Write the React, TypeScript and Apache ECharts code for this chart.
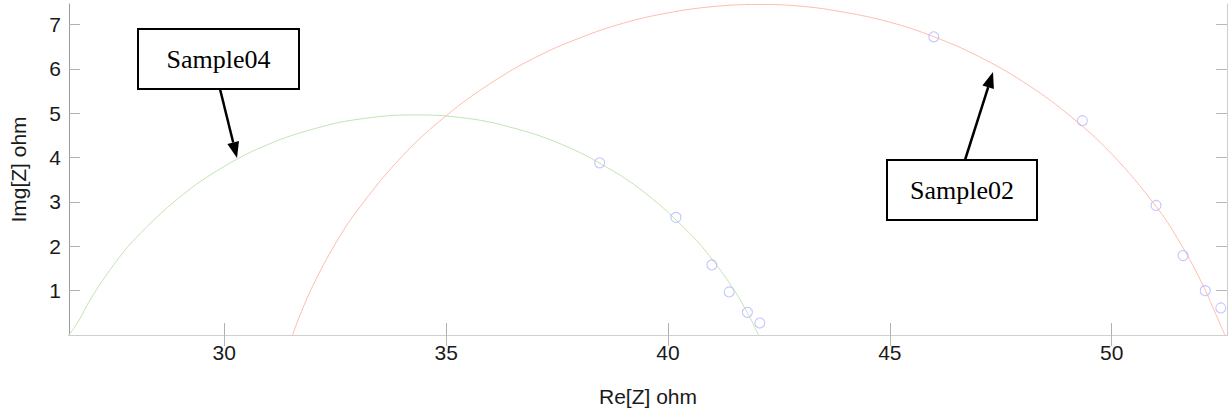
import React, { useEffect, useRef } from "react";
import * as echarts from "echarts";

// Nyquist plot: fitted arcs and measured points for two samples
const xTicks = [30, 35, 40, 45, 50];
const yTicks = [1, 2, 3, 4, 5, 6, 7];

const sample04Fit: [number, number][] = [
  [26.5, 0.0], [26.7, 0.29], [27.0, 0.83], [27.5, 1.57], [28.0, 2.18], [29.0, 3.11],
  [30.0, 3.8], [31.0, 4.3], [32.0, 4.64], [33.0, 4.86], [34.3, 4.96], [35.5, 4.88],
  [36.5, 4.67], [37.5, 4.34], [38.5, 3.85], [39.5, 3.19], [40.5, 2.28], [41.0, 1.7],
  [41.5, 1.0], [41.8, 0.48], [41.95, 0.19], [42.04, 0.0],
];
const sample04Points: [number, number][] = [
  [38.46, 3.88], [40.18, 2.65], [40.99, 1.58], [41.38, 0.97], [41.79, 0.51], [42.07, 0.27],
];

const sample02Fit: [number, number][] = [
  [31.54, 0.0], [31.7, 0.43], [32.0, 1.12], [32.5, 2.05], [33.0, 2.81], [34.0, 4.02],
  [35.0, 4.94], [36.0, 5.67], [37.0, 6.25], [38.0, 6.69], [39.0, 7.03], [40.0, 7.26],
  [41.0, 7.4], [42.03, 7.45], [43.0, 7.41], [44.0, 7.27], [45.0, 7.05], [46.0, 6.72],
  [47.0, 6.28], [48.0, 5.71], [49.0, 4.99], [50.0, 4.08], [51.0, 2.9], [51.5, 2.15],
  [52.0, 1.24], [52.3, 0.58], [52.55, 0.0],
];
const sample02Points: [number, number][] = [
  [45.99, 6.72], [49.34, 4.83], [51.0, 2.92], [51.61, 1.79], [52.11, 1.0], [52.46, 0.61],
];

const X_MIN = 26.5;
const X_MAX = 52.6;
const Y_MIN = 0;
const Y_MAX = 7.46;

const labelFont = "'Liberation Sans', Arial, sans-serif";
const noteFont = "'Liberation Serif', 'Times New Roman', serif";

function arrow(x1: number, y1: number, bx: number, by: number, tip: number[], p1: number[], p2: number[]) {
  return [
    { type: "line", shape: { x1, y1, x2: bx, y2: by }, style: { stroke: "#000", lineWidth: 2.5 }, z: 10 },
    { type: "polygon", shape: { points: [tip, p1, p2] }, style: { fill: "#000" }, z: 10 },
  ];
}

function note(x: number, y: number, w: number, h: number, text: string) {
  return [
    { type: "rect", shape: { x, y, width: w, height: h }, style: { fill: "#fff", stroke: "#000", lineWidth: 2 }, z: 10 },
    {
      type: "text",
      x: x + w / 2,
      y: y + h / 2,
      style: { text, font: `26px ${noteFont}`, fill: "#000", align: "center", verticalAlign: "middle" },
      z: 11,
    },
  ];
}

export default function App() {
  const ref = useRef<HTMLDivElement>(null);

  useEffect(() => {
    if (!ref.current) return;
    const chart = echarts.init(ref.current, undefined, { renderer: "svg" });

    const hiddenAxis = {
      axisLabel: { show: false },
      splitLine: { show: false },
    };

    chart.setOption({
      animation: false,
      backgroundColor: "#fff",
      grid: { left: 63, top: 4, right: 3, bottom: 75, containLabel: false },
      xAxis: [
        {
          type: "value",
          min: X_MIN,
          max: X_MAX,
          name: "Re[Z] ohm",
          nameLocation: "middle",
          nameGap: 51,
          nameTextStyle: { fontFamily: labelFont, fontSize: 21, color: "#1a1a1a" },
          axisLine: { lineStyle: { color: "#9a9a9a", width: 1 } },
          axisTick: { inside: true, length: 12, customValues: xTicks, lineStyle: { color: "#b0b0b0" } },
          axisLabel: { customValues: xTicks, fontFamily: labelFont, fontSize: 21, color: "#1a1a1a", margin: 7 },
          splitLine: { show: false },
        },
        {
          type: "value",
          position: "top",
          min: X_MIN,
          max: X_MAX,
          axisLine: { lineStyle: { color: "#cfcfcf", width: 1 } },
          axisTick: { inside: true, length: 11, customValues: xTicks, lineStyle: { color: "#b8b8b8" } },
          ...hiddenAxis,
        },
      ],
      yAxis: [
        {
          type: "value",
          min: Y_MIN,
          max: Y_MAX,
          name: "Img[Z] ohm",
          nameLocation: "middle",
          nameGap: 40,
          nameTextStyle: { fontFamily: labelFont, fontSize: 21, color: "#1a1a1a" },
          axisLine: { show: true, lineStyle: { color: "#9a9a9a", width: 1 } },
          axisTick: { show: true, inside: true, length: 11, customValues: yTicks, lineStyle: { color: "#b0b0b0" } },
          axisLabel: { customValues: yTicks, fontFamily: labelFont, fontSize: 21, color: "#1a1a1a", margin: 8 },
          splitLine: { show: false },
        },
        {
          type: "value",
          position: "right",
          min: Y_MIN,
          max: Y_MAX,
          axisLine: { show: true, lineStyle: { color: "#cfcfcf", width: 1 } },
          axisTick: { show: true, inside: true, length: 11, customValues: yTicks, lineStyle: { color: "#b8b8b8" } },
          ...hiddenAxis,
        },
      ],
      series: [
        {
          name: "Sample04 fit",
          type: "line",
          data: sample04Fit,
          smooth: 0.4,
          showSymbol: false,
          symbol: "none",
          lineStyle: { color: "#c2e4b2", width: 1 },
          z: 2,
        },
        {
          name: "Sample02 fit",
          type: "line",
          data: sample02Fit,
          smooth: 0.4,
          showSymbol: false,
          symbol: "none",
          lineStyle: { color: "#ffbcae", width: 1 },
          z: 2,
        },
        {
          name: "Sample04",
          type: "scatter",
          data: sample04Points,
          symbol: "circle",
          symbolSize: 10,
          itemStyle: { color: "rgba(255,255,255,0)", borderColor: "#b4b8ff", borderWidth: 1.1 },
          z: 3,
        },
        {
          name: "Sample02",
          type: "scatter",
          data: sample02Points,
          symbol: "circle",
          symbolSize: 10,
          itemStyle: { color: "rgba(255,255,255,0)", borderColor: "#b4b8ff", borderWidth: 1.1 },
          z: 3,
        },
      ],
      graphic: [
        ...note(138, 29, 161, 60, "Sample04"),
        ...arrow(220, 89, 233.2, 142.5, [237, 158], [227.4, 143.9], [239.0, 141.1]),
        ...note(887, 160, 150, 60, "Sample02"),
        ...arrow(965, 160, 988.2, 87.2, [993, 72], [993.9, 89.0], [982.4, 85.4]),
      ],
    });

    return () => chart.dispose();
  }, []);

  return (
    <div
      ref={ref}
      style={{ position: "absolute", left: 0, top: 0, width: 1230, height: 412, background: "#fff" }}
    />
  );
}
